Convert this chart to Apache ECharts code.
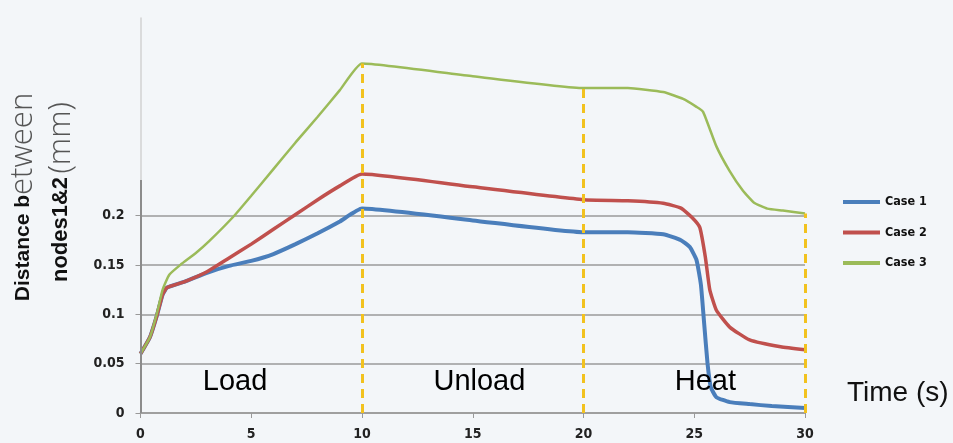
<!DOCTYPE html>
<html>
<head>
<meta charset="utf-8">
<script src="https://cdn.jsdelivr.net/npm/echarts@6/dist/echarts.min.js"></script>
<style>
  html, body { margin: 0; padding: 0; background: #f3f6f9; }
  #main { width: 953px; height: 443px; }
</style>
</head>
<body>
<div id="main"></div>
<script>
// values (time in s, distance in mm)
var case1Time = [0, 0.43, 0.73, 1.0, 1.2, 2, 3, 4, 5, 6, 7, 8, 9, 10, 15, 20, 22, 23.6, 24.4, 24.8, 25.1, 25.3, 25.45, 25.6, 25.75, 26, 26.6, 27.5, 28.5, 30];
var case1Dist = [0.06, 0.077, 0.098, 0.12, 0.127, 0.133, 0.142, 0.149, 0.154, 0.161, 0.171, 0.182, 0.194, 0.207, 0.195, 0.183, 0.183, 0.181, 0.175, 0.168, 0.155, 0.13, 0.09, 0.05, 0.026, 0.016, 0.011, 0.009, 0.007, 0.005];

var case2Time = [0, 0.43, 0.73, 1.0, 1.2, 2, 3, 4, 5, 6, 7, 8, 9, 10, 15, 20, 22, 23.6, 24.4, 24.9, 25.25, 25.5, 25.7, 26, 26.6, 27.5, 28.9, 30];
var case2Dist = [0.06, 0.077, 0.098, 0.12, 0.127, 0.133, 0.143, 0.157, 0.171, 0.186, 0.201, 0.216, 0.23, 0.242, 0.229, 0.216, 0.215, 0.2125, 0.2075, 0.198, 0.188, 0.158, 0.125, 0.104, 0.087, 0.074, 0.067, 0.064];

var case3Time = [0, 0.43, 0.73, 1.0, 1.3, 1.8, 2.5, 3.1, 4.2, 5, 6, 7, 8, 9, 10, 15, 20, 22, 23.6, 24.5, 25.1, 25.4, 26, 26.6, 27.2, 27.7, 28.3, 29, 30];
var case3Dist = [0.06, 0.077, 0.1, 0.125, 0.14, 0.15, 0.162, 0.174, 0.199, 0.22, 0.247, 0.274, 0.3, 0.327, 0.354, 0.341, 0.329, 0.329, 0.325, 0.318, 0.31, 0.305, 0.27, 0.245, 0.225, 0.213, 0.207, 0.205, 0.202];

var seriesNames = ['Case 1', 'Case 2', 'Case 3'];
var seriesColors = ['#4a7ebb', '#c0504d', '#9bbb59'];

var yTicks = [0, 0.05, 0.1, 0.15, 0.2];
var dividerTimes = [10, 20, 30];

var phaseNames = ['Load', 'Unload', 'Heat'];
var phaseTime = [4.27, 15.3, 25.5];
var phaseDist = [0.031, 0.031, 0.031];

function pairs(t, v) {
  return t.map(function (x, i) { return [x, v[i]]; });
}
function valueAt(t, v, x) {
  return v[t.indexOf(x)];
}

var myChart = echarts.init(document.getElementById('main'));

var tickFont = '"DejaVu Sans Condensed", "DejaVu Sans", sans-serif';
var sansFont = '"Liberation Sans", Arial, sans-serif';
var lightFont = '"Open Sans", sans-serif';

var option = {
  backgroundColor: '#f3f6f9',
  animation: false,
  grid: { left: 140.5, right: 148, top: 18, bottom: 30 },
  legend: {
    data: seriesNames,
    orient: 'vertical',
    left: 838,
    top: 190,
    icon: 'rect',
    itemWidth: 37,
    itemHeight: 4,
    itemGap: 16.5,
    textStyle: { fontFamily: tickFont, fontWeight: 'bold', fontSize: 12.5, color: '#111', lineHeight: 14 }
  },
  xAxis: {
    type: 'value',
    min: 0,
    max: 30,
    interval: 5,
    axisLine: { lineStyle: { color: '#999', width: 1.5 } },
    axisTick: { length: 5, lineStyle: { color: '#999' } },
    splitLine: { show: false },
    axisLabel: { margin: 14, fontFamily: tickFont, fontWeight: 'bold', fontSize: 14, color: '#222' }
  },
  yAxis: {
    type: 'value',
    min: 0,
    max: 0.4,
    interval: 0.05,
    axisLine: { show: true, lineStyle: { color: '#d2d2d2', width: 1.5 } },
    axisTick: { show: true, length: 5, customValues: yTicks, lineStyle: { color: '#999' } },
    axisLabel: { margin: 16, customValues: yTicks, fontFamily: tickFont, fontWeight: 'bold', fontSize: 14, color: '#222' },
    splitLine: {
      show: true,
      lineStyle: {
        width: 1.5,
        color: ['#9a9a9a', '#9a9a9a', '#9a9a9a', '#9a9a9a', '#9a9a9a',
                'rgba(0,0,0,0)', 'rgba(0,0,0,0)', 'rgba(0,0,0,0)', 'rgba(0,0,0,0)']
      }
    }
  },
  graphic: [
    {
      type: 'text',
      x: 23,
      y: 197,
      rotation: Math.PI / 2,
      style: {
        text: '{b|Distance b}{l|etween}',
        align: 'center',
        verticalAlign: 'middle',
        rich: {
          b: { fontFamily: sansFont, fontWeight: 'bold', fontSize: 21, fill: '#111' },
          l: { fontFamily: lightFont, fontWeight: 300, fontSize: 31, fill: '#555' }
        }
      }
    },
    {
      type: 'text',
      x: 61,
      y: 192,
      rotation: Math.PI / 2,
      style: {
        text: '{b|nodes1&2} {l|(mm)}',
        align: 'center',
        verticalAlign: 'middle',
        rich: {
          b: { fontFamily: sansFont, fontWeight: 'bold', fontSize: 22, fill: '#111' },
          l: { fontFamily: lightFont, fontWeight: 300, fontSize: 31, fill: '#555' }
        }
      }
    },
    {
      type: 'text',
      x: 847,
      y: 393,
      style: {
        text: 'Time (s)',
        align: 'left',
        verticalAlign: 'middle',
        font: '28px ' + sansFont,
        fill: '#111'
      }
    }
  ],
  series: [
    {
      name: 'Case 1',
      type: 'line',
      data: pairs(case1Time, case1Dist),
      showSymbol: false,
      smooth: 0.15,
      lineStyle: { color: seriesColors[0], width: 4 },
      itemStyle: { color: seriesColors[0] }
    },
    {
      name: 'Case 2',
      type: 'line',
      data: pairs(case2Time, case2Dist),
      showSymbol: false,
      smooth: 0.15,
      lineStyle: { color: seriesColors[1], width: 3.5 },
      itemStyle: { color: seriesColors[1] }
    },
    {
      name: 'Case 3',
      type: 'line',
      data: pairs(case3Time, case3Dist),
      showSymbol: false,
      smooth: 0.15,
      lineStyle: { color: seriesColors[2], width: 2.5 },
      itemStyle: { color: seriesColors[2] }
    },
    {
      name: 'markers',
      type: 'line',
      data: [],
      z: 10,
      markLine: {
        silent: true,
        symbol: 'none',
        label: { show: false },
        lineStyle: { color: '#f2c21f', width: 3, type: [9, 6] },
        data: dividerTimes.map(function (t) {
          return [{ coord: [t, 0] }, { coord: [t, valueAt(case3Time, case3Dist, t)] }];
        }).concat([
          [{ coord: [0, 0], lineStyle: { color: '#8c8c8c', width: 2, type: 'solid' } }, { coord: [0, 0.236] }]
        ])
      }
    },
    {
      name: 'phases',
      type: 'scatter',
      data: phaseNames.map(function (n, i) { return { name: n, value: [phaseTime[i], phaseDist[i]] }; }),
      symbolSize: 1,
      itemStyle: { color: 'rgba(0,0,0,0)', opacity: 1 },
      silent: true,
      z: 5,
      label: {
        show: true,
        position: 'inside',
        formatter: '{b}',
        fontFamily: sansFont,
        fontSize: 29,
        color: '#000'
      }
    }
  ]
};
myChart.setOption(option);
</script>
</body>
</html>
